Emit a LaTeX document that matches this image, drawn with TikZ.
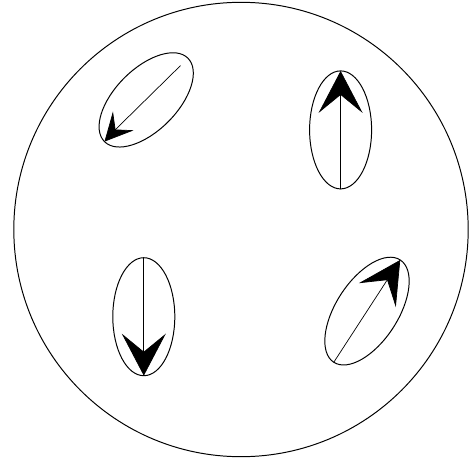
\documentclass[tikz,border=0pt]{standalone}
\usetikzlibrary{shapes.geometric,arrows.meta,calc}
\begin{document}
\begin{tikzpicture}[line cap=round,line join=round,
  spin/.style={draw,ellipse,line width=0.7pt,minimum width=1.55cm,minimum height=2.95cm,inner sep=0pt,outer sep=0pt},
  bigtip/.style={line width=0.5pt,-{Stealth[length=1.05cm,width=1.1cm,inset=0.45cm]}},
  smalltip/.style={line width=0.5pt,-{Stealth[length=0.7cm,width=0.7cm,inset=0.29cm]}}]
  \useasboundingbox (-6.025,-5.8625) rectangle (5.7,5.7375);
  \draw[line width=0.7pt] (0,0) circle (5.68);
  % the four domains
  \node[spin] (m1) at (2.49,2.49) {};
  \node[spin] (m2) at (-2.43,-2.18) {};
  \node[spin,rotate=-45] (m3) at (-2.37,3.24) {};
  \node[spin,rotate=-33,minimum height=3.05cm] (m4) at (3.15,-2.04) {};
  \coordinate (t3) at ($(m3.center)!0.82!(m3.north)$);
  \draw[bigtip] (m1.south) -- (m1.north);
  \draw[bigtip] (m2.north) -- (m2.south);
  \draw[smalltip] (t3) -- (m3.south);
  \draw[bigtip] (m4.south) -- (m4.north);
\end{tikzpicture}
\end{document}
